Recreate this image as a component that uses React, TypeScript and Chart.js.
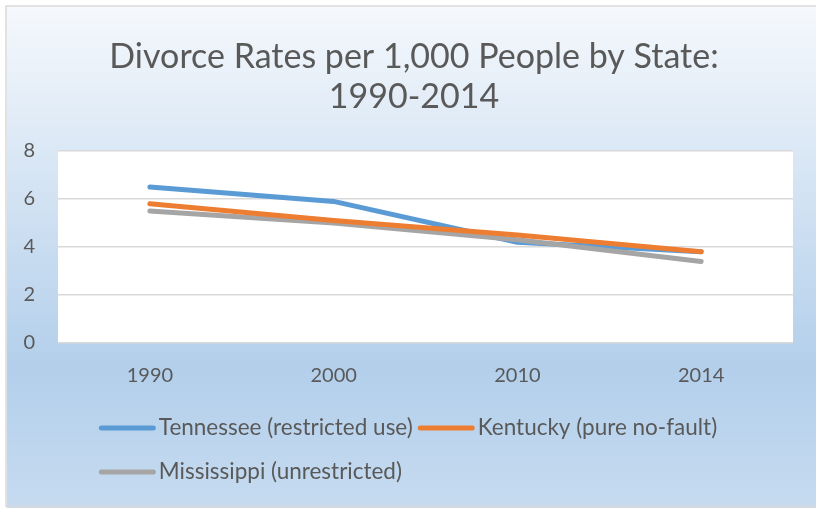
import React, { useEffect, useRef } from "react";
import { Chart, registerables } from "chart.js";

Chart.register(...registerables);

const categories = ["1990", "2000", "2010", "2014"];
const tennessee = [6.5, 5.9, 4.2, 3.8];
const kentucky = [5.8, 5.1, 4.5, 3.8];
const mississippi = [5.5, 5.0, 4.3, 3.4];
const seriesNames = ["Tennessee (restricted use)", "Kentucky (pure no-fault)", "Mississippi (unrestricted)"];
const titleLines = ["Divorce Rates per 1,000 People by State:", "1990-2014"];

const FONT = "Lato, 'Open Sans', sans-serif";
const TEXT = "#595959";

const backgroundPlugin = {
  id: "bgPlugin",
  beforeDraw(chart: any) {
    const { ctx, width, height, chartArea } = chart;
    ctx.save();
    ctx.fillStyle = "#ffffff";
    ctx.fillRect(0, 0, width, height);
    const g = ctx.createLinearGradient(0, 7, 0, height);
    g.addColorStop(0, "#f5f8fc");
    g.addColorStop(0.72, "#b3cfeb");
    g.addColorStop(1, "#c6dbf0");
    ctx.fillStyle = g;
    ctx.fillRect(7, 7, width - 7, height - 7);
    ctx.strokeStyle = "#d9d9d9";
    ctx.lineWidth = 1.5;
    ctx.strokeRect(6, 6, width, height - 7.5);
    ctx.fillStyle = "#ffffff";
    ctx.fillRect(chartArea.left, chartArea.top, chartArea.right - chartArea.left, chartArea.bottom - chartArea.top);
    ctx.restore();
  },
};

const titlePlugin = {
  id: "customTitle",
  afterDraw(chart: any) {
    const { ctx } = chart;
    ctx.save();
    ctx.font = `34px ${FONT}`;
    ctx.fillStyle = TEXT;
    ctx.textAlign = "center";
    ctx.textBaseline = "middle";
    titleLines.forEach((line, i) => {
      ctx.fillText(line, 414, 57 + i * 40);
    });
    ctx.restore();
  },
};

const legendPlugin = {
  id: "customLegend",
  afterDraw(chart: any) {
    const { ctx, width, chartArea } = chart;
    const datasets = chart.data.datasets;
    const lineW = 57;
    const gapLine = 3;
    const gapItem = 5;
    const maxRow = 680;
    ctx.save();
    ctx.font = `22.5px ${FONT}`;
    const items = datasets.map((d: any) => ({
      label: d.label,
      color: d.borderColor,
      w: lineW + gapLine + ctx.measureText(d.label).width,
    }));
    const rows: any[][] = [];
    let cur: any[] = [];
    let curW = 0;
    for (const it of items) {
      const add = cur.length ? gapItem + it.w : it.w;
      if (cur.length && curW + add > maxRow) {
        rows.push(cur);
        cur = [it];
        curW = it.w;
      } else {
        cur.push(it);
        curW += add;
      }
    }
    if (cur.length) rows.push(cur);
    const rowWidths = rows.map((r) => r.reduce((s, it, i) => s + it.w + (i ? gapItem : 0), 0));
    const blockW = Math.max(...rowWidths);
    const startX = (width - blockW) / 2;
    const rowYs = [chartArea.bottom + 85, chartArea.bottom + 129];
    rows.forEach((r, ri) => {
      let x = startX;
      const y = rowYs[ri] ?? chartArea.bottom + 85 + ri * 44;
      r.forEach((it) => {
        ctx.strokeStyle = it.color;
        ctx.lineWidth = 5;
        ctx.lineCap = "round";
        ctx.beginPath();
        ctx.moveTo(x + 2.5, y);
        ctx.lineTo(x + lineW - 2.5, y);
        ctx.stroke();
        ctx.fillStyle = TEXT;
        ctx.textBaseline = "middle";
        ctx.textAlign = "left";
        ctx.fillText(it.label, x + lineW + gapLine, y);
        x += it.w + gapItem;
      });
    });
    ctx.restore();
  },
};

export default function App() {
  const ref = useRef<HTMLCanvasElement>(null);
  useEffect(() => {
    if (!ref.current) return;
    const common = {
      fill: false,
      borderWidth: 5,
      pointRadius: 0,
      pointHoverRadius: 0,
      tension: 0,
      borderCapStyle: "round" as const,
      borderJoinStyle: "round" as const,
    };
    const chart = new Chart(ref.current, {
      type: "line",
      data: {
        labels: categories,
        datasets: [
          { ...common, label: seriesNames[0], data: tennessee, borderColor: "#5b9bd5", backgroundColor: "#5b9bd5", order: 3 },
          { ...common, label: seriesNames[1], data: kentucky, borderColor: "#ed7d31", backgroundColor: "#ed7d31", order: 1 },
          { ...common, label: seriesNames[2], data: mississippi, borderColor: "#a5a5a5", backgroundColor: "#a5a5a5", order: 2 },
        ],
      },
      options: {
        animation: false,
        responsive: false,
        devicePixelRatio: 1,
        layout: { padding: { left: 0, right: 23, top: 151, bottom: 121 } },
        plugins: {
          legend: { display: false },
          tooltip: { enabled: false },
          title: { display: false },
        },
        scales: {
          x: {
            offset: true,
            grid: { display: false, drawTicks: false },
            border: { display: false },
            ticks: { color: TEXT, font: { family: FONT, size: 20 }, padding: 21, maxRotation: 0 },
            afterFit(scale: any) {
              scale.height = 44;
            },
          },
          y: {
            min: 0,
            max: 8,
            ticks: { stepSize: 2, color: TEXT, font: { family: FONT, size: 20 }, padding: 23 },
            grid: { color: "#d9d9d9", lineWidth: 1.5, drawTicks: false },
            border: { display: false },
            afterFit(scale: any) {
              scale.width = 58;
            },
          },
        },
      },
      plugins: [backgroundPlugin, titlePlugin, legendPlugin],
    });
    return () => chart.destroy();
  }, []);
  return (
    <div style={{ position: "absolute", left: 0, top: 0, width: 816, height: 508 }}>
      <canvas ref={ref} width={816} height={508} style={{ width: 816, height: 508, display: "block" }} />
    </div>
  );
}
